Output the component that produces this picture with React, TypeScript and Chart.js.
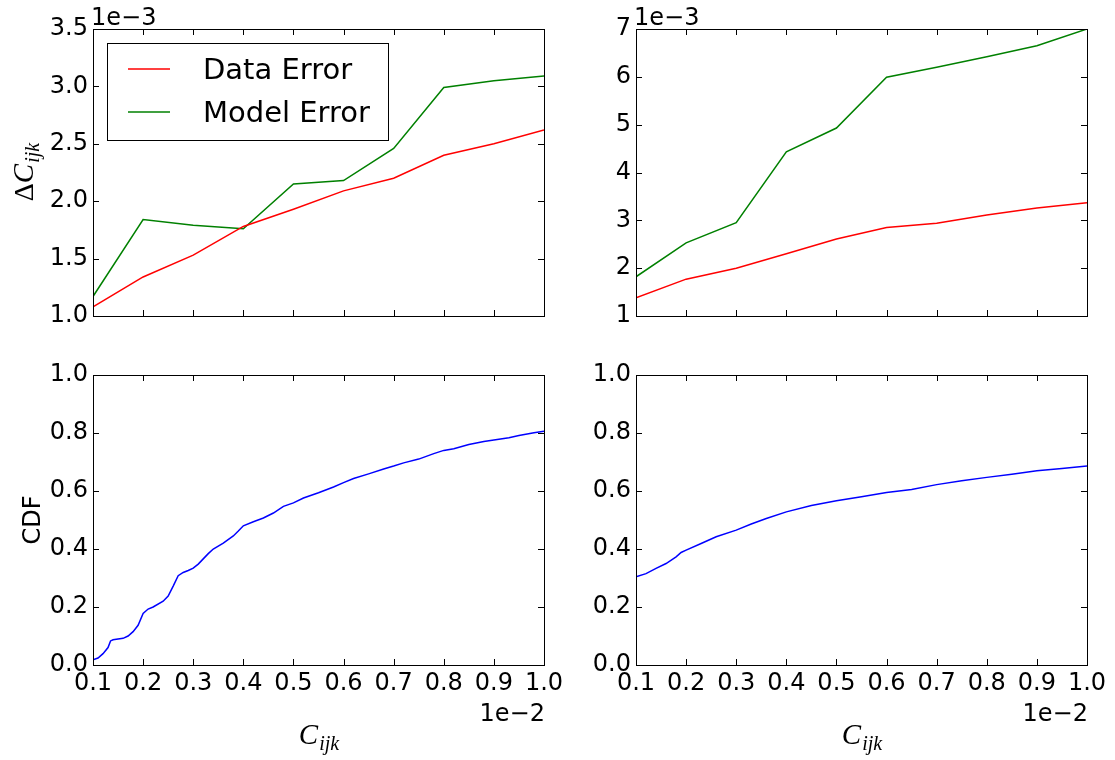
import React, { useEffect, useRef } from "react";
import { Chart, registerables } from "chart.js";

Chart.register(...registerables);

// ---------- data ----------
// x positions (C_ijk), shown with offset 1e-2
const errorX = [0.001, 0.002, 0.003, 0.004, 0.005, 0.006, 0.007, 0.008, 0.009, 0.01];
// top-left panel (values shown with offset 1e-3)
const dataErrorLeft = [0.00108, 0.00134, 0.00153, 0.00178, 0.00193, 0.00209, 0.0022, 0.0024, 0.0025, 0.00262];
const modelErrorLeft = [0.00117, 0.00184, 0.00179, 0.00176, 0.00215, 0.00218, 0.00246, 0.00299, 0.00305, 0.00309];
// top-right panel
const dataErrorRight = [0.00138, 0.00177, 0.002, 0.0023, 0.00261, 0.00285, 0.00294, 0.00311, 0.00326, 0.00337];
const modelErrorRight = [0.00182, 0.00253, 0.00295, 0.00443, 0.00493, 0.00599, 0.0062, 0.00642, 0.00665, 0.007];

// bottom-left CDF
const cdfLeftX = [
  0.001, 0.0011, 0.0012, 0.0013, 0.00135, 0.0014, 0.0016, 0.0017, 0.0018, 0.0019, 0.002, 0.0021, 0.0022,
  0.0024, 0.0025, 0.0026, 0.0027, 0.0028, 0.0029, 0.003, 0.0031, 0.0032, 0.0033, 0.0034, 0.0036, 0.0038,
  0.0039, 0.004, 0.0042, 0.0044, 0.0046, 0.0048, 0.005, 0.0052, 0.0055, 0.0058, 0.006, 0.0062, 0.0065,
  0.0068, 0.007, 0.0072, 0.0075, 0.0078, 0.008, 0.0082, 0.0085, 0.0088, 0.009, 0.0093, 0.0095, 0.0098, 0.01,
];
const cdfLeftY = [
  0.018, 0.024, 0.039, 0.06, 0.083, 0.087, 0.092, 0.1, 0.115, 0.137, 0.178, 0.193, 0.2,
  0.22, 0.238, 0.272, 0.308, 0.319, 0.326, 0.334, 0.348, 0.366, 0.384, 0.4, 0.42, 0.445,
  0.462, 0.48, 0.494, 0.507, 0.524, 0.547, 0.559, 0.576, 0.594, 0.614, 0.629, 0.643, 0.659,
  0.676, 0.686, 0.697, 0.71, 0.729, 0.74, 0.746, 0.76, 0.771, 0.776, 0.784, 0.791, 0.801, 0.806,
];
// bottom-right CDF
const cdfRightX = [
  0.001, 0.0012, 0.0014, 0.0016, 0.0018, 0.0019, 0.002, 0.0023, 0.0026, 0.003, 0.0033, 0.0036, 0.004,
  0.0045, 0.005, 0.0055, 0.006, 0.0065, 0.007, 0.0075, 0.008, 0.0085, 0.009, 0.0095, 0.01,
];
const cdfRightY = [
  0.304, 0.315, 0.333, 0.35, 0.373, 0.388, 0.396, 0.419, 0.442, 0.465, 0.486, 0.505, 0.528,
  0.55, 0.566, 0.58, 0.595, 0.605, 0.622, 0.635, 0.647, 0.658, 0.67, 0.678, 0.686,
];

const seriesLabels = ["Data Error", "Model Error"];
const xOffsetText = "1e\u22122";
const yOffsetText = "1e\u22123";

// ---------- style ----------
const SANS = "'DejaVu Sans', sans-serif";
const SERIF = "'Liberation Serif', 'DejaVu Serif', serif";
const TICK_FONT = 24;

const zip = (xs: number[], ys: number[]) => xs.map((x, i) => ({ x, y: ys[i] }));

type Decor = {
  offsetTop?: string;
  offsetBottom?: string;
  xLabel?: boolean;
  yLabel?: "delta" | "cdf";
  legend?: boolean;
};

function drawMath(ctx: CanvasRenderingContext2D, withDelta: boolean) {
  const parts: { t: string; f: string; dy: number }[] = [];
  if (withDelta) parts.push({ t: "\u0394", f: `28px ${SERIF}`, dy: 0 });
  parts.push({ t: "C", f: `italic 29px ${SERIF}`, dy: 0 });
  parts.push({ t: "ijk", f: `italic 20px ${SERIF}`, dy: 6 });
  let total = 0;
  const widths = parts.map((p) => {
    ctx.font = p.f;
    const w = ctx.measureText(p.t).width;
    total += w;
    return w;
  });
  let x = -total / 2;
  ctx.textAlign = "left";
  ctx.textBaseline = "alphabetic";
  parts.forEach((p, i) => {
    ctx.font = p.f;
    ctx.fillText(p.t, x, p.dy);
    x += widths[i] + (p.t === "C" ? 1 : 0);
  });
}

const decorPlugin = {
  id: "mplDecor",
  afterDraw(chart: any, _args: any, opts: Decor) {
    const ctx: CanvasRenderingContext2D = chart.ctx;
    const ca = chart.chartArea;
    const xs = chart.scales.x;
    const ys = chart.scales.y;
    ctx.save();
    ctx.strokeStyle = "#000";
    ctx.fillStyle = "#000";
    ctx.lineWidth = 1;
    const L = 6;
    ctx.beginPath();
    xs.ticks.forEach((t: any) => {
      const p = Math.round(xs.getPixelForValue(t.value)) + 0.5;
      ctx.moveTo(p, ca.bottom);
      ctx.lineTo(p, ca.bottom - L);
      ctx.moveTo(p, ca.top);
      ctx.lineTo(p, ca.top + L);
    });
    ys.ticks.forEach((t: any) => {
      const p = Math.round(ys.getPixelForValue(t.value)) + 0.5;
      ctx.moveTo(ca.left, p);
      ctx.lineTo(ca.left + L, p);
      ctx.moveTo(ca.right, p);
      ctx.lineTo(ca.right - L, p);
    });
    ctx.stroke();
    ctx.strokeRect(ca.left + 0.5, ca.top + 0.5, ca.right - ca.left, ca.bottom - ca.top);

    if (opts.offsetTop) {
      ctx.font = `${TICK_FONT}px ${SANS}`;
      ctx.textAlign = "left";
      ctx.textBaseline = "alphabetic";
      ctx.fillText(opts.offsetTop, ca.left - 2, ca.top - 4);
    }
    if (opts.offsetBottom) {
      ctx.font = `${TICK_FONT}px ${SANS}`;
      ctx.textAlign = "right";
      ctx.textBaseline = "alphabetic";
      ctx.fillText(opts.offsetBottom, ca.right + 1, ca.bottom + 56);
    }
    if (opts.xLabel) {
      ctx.save();
      ctx.translate((ca.left + ca.right) / 2, ca.bottom + 79);
      drawMath(ctx, false);
      ctx.restore();
    }
    if (opts.yLabel === "delta") {
      ctx.save();
      ctx.translate(ca.left - 60, (ca.top + ca.bottom) / 2);
      ctx.rotate(-Math.PI / 2);
      drawMath(ctx, true);
      ctx.restore();
    }
    if (opts.yLabel === "cdf") {
      ctx.save();
      ctx.translate(ca.left - 53, (ca.top + ca.bottom) / 2);
      ctx.rotate(-Math.PI / 2);
      ctx.font = `${TICK_FONT}px ${SANS}`;
      ctx.textAlign = "center";
      ctx.textBaseline = "alphabetic";
      ctx.fillText("CDF", 0, 0);
      ctx.restore();
    }
    if (opts.legend) {
      const bx = ca.left + 14;
      const by = ca.top + 14;
      const bw = 281;
      const bh = 97;
      ctx.fillStyle = "#fff";
      ctx.fillRect(bx, by, bw, bh);
      ctx.strokeStyle = "#000";
      ctx.lineWidth = 1;
      ctx.strokeRect(bx + 0.5, by + 0.5, bw, bh);
      const rows = [by + 26, by + 69];
      chart.data.datasets.forEach((ds: any, i: number) => {
        ctx.strokeStyle = ds.borderColor;
        ctx.lineWidth = 1.5;
        ctx.beginPath();
        ctx.moveTo(bx + 21, rows[i]);
        ctx.lineTo(bx + 63, rows[i]);
        ctx.stroke();
        ctx.fillStyle = "#000";
        ctx.font = `29px ${SANS}`;
        ctx.textAlign = "left";
        ctx.textBaseline = "middle";
        ctx.fillText(ds.label, bx + 96, rows[i] + 2);
      });
    }
    ctx.restore();
  },
};

type PanelCfg = {
  left: number;
  top: number;
  width: number;
  height: number;
  area: { left: number; top: number; right: number; bottom: number };
  datasets: any[];
  yMin: number;
  yMax: number;
  yStep: number;
  yFmt: (v: number) => string;
  xLabels: boolean;
  decor: Decor;
};

function buildConfig(cfg: PanelCfg): any {
  const zeroPad = (s: any) => {
    s.paddingLeft = 0;
    s.paddingRight = 0;
    s.paddingTop = 0;
    s.paddingBottom = 0;
  };
  return {
    type: "line",
    data: { datasets: cfg.datasets },
    plugins: [decorPlugin],
    options: {
      responsive: false,
      animation: false,
      devicePixelRatio: 1,
      parsing: true,
      layout: {
        padding: { left: 0, top: cfg.area.top, right: cfg.width - cfg.area.right, bottom: 0 },
      },
      elements: { point: { radius: 0 }, line: { tension: 0 } },
      plugins: {
        legend: { display: false },
        tooltip: { enabled: false },
        mplDecor: cfg.decor,
      },
      scales: {
        x: {
          type: "linear",
          min: 0.001,
          max: 0.01,
          grid: { display: false, drawTicks: false },
          border: { display: false },
          ticks: {
            display: cfg.xLabels,
            stepSize: 0.001,
            autoSkip: false,
            maxRotation: 0,
            padding: 4,
            color: "#000",
            font: { family: SANS, size: TICK_FONT },
            callback: (v: any) => (Number(v) * 100).toFixed(1),
          },
          afterFit: (s: any) => {
            s.height = cfg.height - cfg.area.bottom;
            zeroPad(s);
          },
        },
        y: {
          type: "linear",
          min: cfg.yMin,
          max: cfg.yMax,
          grid: { display: false, drawTicks: false },
          border: { display: false },
          ticks: {
            stepSize: cfg.yStep,
            autoSkip: false,
            padding: 5,
            color: "#000",
            font: { family: SANS, size: TICK_FONT },
            callback: (v: any) => cfg.yFmt(Number(v)),
          },
          afterFit: (s: any) => {
            s.width = cfg.area.left;
            zeroPad(s);
          },
        },
      },
    },
  };
}

function Panel({ cfg }: { cfg: PanelCfg }) {
  const ref = useRef<HTMLCanvasElement | null>(null);
  useEffect(() => {
    const chart = new Chart(ref.current as HTMLCanvasElement, buildConfig(cfg));
    return () => chart.destroy();
  }, []);
  return (
    <canvas
      ref={ref}
      width={cfg.width}
      height={cfg.height}
      style={{ position: "absolute", left: cfg.left, top: cfg.top, width: cfg.width, height: cfg.height }}
    />
  );
}

const lineDs = (label: string, data: any[], color: string) => ({
  label,
  data,
  borderColor: color,
  backgroundColor: color,
  borderWidth: 1.5,
  pointRadius: 0,
  fill: false,
});

const panels: PanelCfg[] = [
  {
    left: 0,
    top: 0,
    width: 590,
    height: 345,
    area: { left: 93, top: 29, right: 544, bottom: 316 },
    datasets: [
      lineDs(seriesLabels[0], zip(errorX, dataErrorLeft), "#ff0000"),
      lineDs(seriesLabels[1], zip(errorX, modelErrorLeft), "#008000"),
    ],
    yMin: 0.001,
    yMax: 0.0035,
    yStep: 0.0005,
    yFmt: (v) => (v * 1000).toFixed(1),
    xLabels: false,
    decor: { offsetTop: yOffsetText, yLabel: "delta", legend: true },
  },
  {
    left: 590,
    top: 0,
    width: 525,
    height: 345,
    area: { left: 46, top: 29, right: 497, bottom: 316 },
    datasets: [
      lineDs(seriesLabels[0], zip(errorX, dataErrorRight), "#ff0000"),
      lineDs(seriesLabels[1], zip(errorX, modelErrorRight), "#008000"),
    ],
    yMin: 0.001,
    yMax: 0.007,
    yStep: 0.001,
    yFmt: (v) => (v * 1000).toFixed(0),
    xLabels: false,
    decor: { offsetTop: yOffsetText },
  },
  {
    left: 0,
    top: 345,
    width: 590,
    height: 415,
    area: { left: 93, top: 30, right: 544, bottom: 320 },
    datasets: [lineDs("CDF", zip(cdfLeftX, cdfLeftY), "#0000ff")],
    yMin: 0,
    yMax: 1,
    yStep: 0.2,
    yFmt: (v) => v.toFixed(1),
    xLabels: true,
    decor: { offsetBottom: xOffsetText, xLabel: true, yLabel: "cdf" },
  },
  {
    left: 590,
    top: 345,
    width: 525,
    height: 415,
    area: { left: 46, top: 30, right: 497, bottom: 320 },
    datasets: [lineDs("CDF", zip(cdfRightX, cdfRightY), "#0000ff")],
    yMin: 0,
    yMax: 1,
    yStep: 0.2,
    yFmt: (v) => v.toFixed(1),
    xLabels: true,
    decor: { offsetBottom: xOffsetText, xLabel: true },
  },
];

export default function App() {
  return (
    <div style={{ position: "absolute", left: 0, top: 0, width: 1115, height: 760, background: "#fff", overflow: "hidden" }}>
      {panels.map((p, i) => (
        <Panel key={i} cfg={p} />
      ))}
    </div>
  );
}
